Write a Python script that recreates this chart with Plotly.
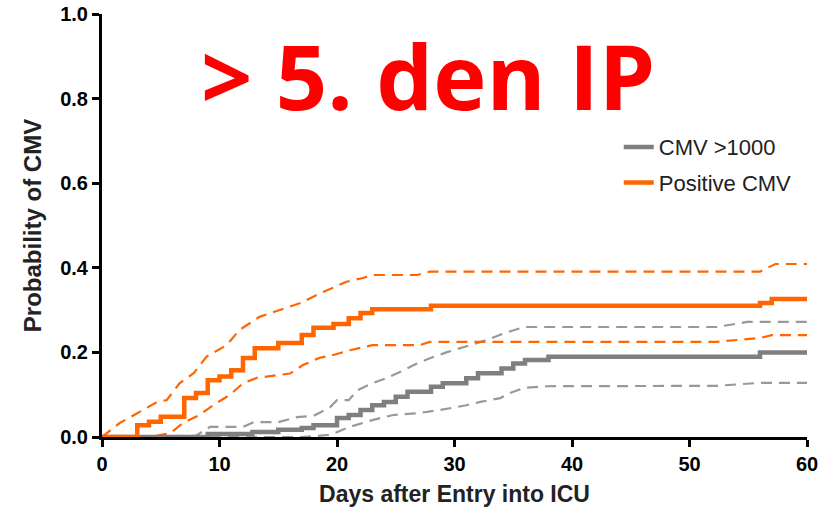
import plotly.graph_objects as go

# ---- data ----
pos_days = [0, 3, 4, 5, 7, 8, 9, 10, 11, 12, 13, 15, 17, 18, 19.7, 21, 22, 23, 28, 56, 57, 60]
pos_prob = [0, 0.028, 0.036, 0.048, 0.092, 0.104, 0.134, 0.143, 0.158, 0.187, 0.21, 0.222, 0.241, 0.258,
            0.267, 0.281, 0.293, 0.302, 0.31, 0.317, 0.326, 0.326]

pos_hi_days = [0, 1.5, 3, 4.7, 5.5, 6.6, 7.8, 8.9, 10.6, 11.7, 13.4, 15.1, 16.9, 18.6, 20.8, 22.2, 23,
               26.8, 27.9, 56, 57.3, 60]
pos_hi_prob = [0, 0.033, 0.056, 0.083, 0.087, 0.127, 0.151, 0.19, 0.217, 0.253, 0.284, 0.3, 0.317, 0.34,
               0.367, 0.376, 0.383, 0.383, 0.391, 0.391, 0.409, 0.409]

pos_lo_days = [0, 4, 5.8, 6.9, 8.3, 9.5, 10.9, 12, 13.2, 15.1, 16, 17.1, 18.5, 19.7, 21.1, 23, 27, 27.9,
               52.3, 56, 57, 60]
pos_lo_prob = [0, 0, 0.009, 0.033, 0.052, 0.076, 0.1, 0.127, 0.14, 0.147, 0.15, 0.17, 0.187, 0.194,
               0.205, 0.217, 0.217, 0.225, 0.225, 0.234, 0.241, 0.241]

hi_days = [0, 9, 12.8, 15, 17, 18, 20, 21, 22, 23, 24, 25, 26, 28, 29, 31, 32, 34, 35, 36, 38, 56, 60]
hi_prob = [0, 0.007, 0.012, 0.017, 0.021, 0.028, 0.045, 0.052, 0.064, 0.075, 0.083, 0.095, 0.107, 0.119,
           0.127, 0.139, 0.151, 0.162, 0.174, 0.182, 0.19, 0.2, 0.2]

hi_up_days = [0, 8, 9.2, 12, 12.9, 15, 16.6, 18, 19.4, 20, 21, 21.7, 23, 24.2, 25.4, 26.8, 27.9, 29.3,
              31.3, 32.8, 34.2, 35.9, 52.3, 54.9, 60]
hi_up_prob = [0, 0.003, 0.024, 0.024, 0.035, 0.035, 0.047, 0.05, 0.07, 0.087, 0.087, 0.11, 0.127, 0.139,
              0.154, 0.174, 0.186, 0.2, 0.217, 0.23, 0.245, 0.26, 0.26, 0.272, 0.272]

hi_lo_days = [0, 17, 19.4, 21.1, 23, 24.8, 26.8, 28.8, 31, 32.2, 33.9, 34.7, 35.9, 37.9, 52.3, 56, 60]
hi_lo_prob = [0, 0, 0.005, 0.024, 0.04, 0.052, 0.056, 0.064, 0.075, 0.083, 0.092, 0.104, 0.116, 0.12,
              0.121, 0.128, 0.128]

x_ticks = [0, 10, 20, 30, 40, 50, 60]
y_ticks = [0.0, 0.2, 0.4, 0.6, 0.8, 1.0]
y_tick_text = ["0.0", "0.2", "0.4", "0.6", "0.8", "1.0"]

ORANGE = "#FF6600"
GRAY = "#7F7F7F"
GRAY_D = "#999999"

fig = go.Figure()
dash = "11px,7px"
fig.add_trace(go.Scatter(x=hi_up_days, y=hi_up_prob, mode="lines", showlegend=False,
                         line=dict(color=GRAY_D, width=2.2, dash=dash), hoverinfo="skip"))
fig.add_trace(go.Scatter(x=hi_lo_days, y=hi_lo_prob, mode="lines", showlegend=False,
                         line=dict(color=GRAY_D, width=2.2, dash=dash), hoverinfo="skip"))
fig.add_trace(go.Scatter(x=pos_hi_days, y=pos_hi_prob, mode="lines", showlegend=False,
                         line=dict(color=ORANGE, width=2.2, dash=dash), hoverinfo="skip"))
fig.add_trace(go.Scatter(x=pos_lo_days, y=pos_lo_prob, mode="lines", showlegend=False,
                         line=dict(color=ORANGE, width=2.2, dash=dash), hoverinfo="skip"))
fig.add_trace(go.Scatter(x=hi_days, y=hi_prob, mode="lines", name="CMV >1000", legendgroup="a",
                         line=dict(color=GRAY, width=4.5, shape="hv")))
fig.add_trace(go.Scatter(x=pos_days, y=pos_prob, mode="lines", name="Positive CMV", legendgroup="b",
                         line=dict(color=ORANGE, width=4.5, shape="hv")))

tickfont = dict(family="Liberation Sans", size=20, color="black", weight="bold")
fig.update_layout(
    width=833, height=507,
    margin=dict(l=102, r=26, t=14, b=70),
    paper_bgcolor="white", plot_bgcolor="white",
    showlegend=True,
    legend=dict(x=0.733, y=0.735, xanchor="left", yanchor="top",
                font=dict(family="Liberation Sans", size=22, color="#222"),
                bgcolor="rgba(0,0,0,0)", tracegroupgap=4),
    xaxis=dict(range=[0, 60], tickvals=x_ticks, showline=True, linewidth=3, linecolor="black",
               ticks="outside", ticklen=7, tickwidth=3, tickcolor="black", showgrid=False,
               zeroline=False, tickfont=tickfont, automargin=False,
               title=dict(text="Days after Entry into ICU", standoff=13,
                          font=dict(family="Liberation Sans", size=23, color="#222", weight="bold"))),
    yaxis=dict(range=[0, 1], tickvals=y_ticks, ticktext=y_tick_text, showline=True, linewidth=3,
               linecolor="black", ticks="outside", ticklen=7, tickwidth=3, tickcolor="black",
               showgrid=False, zeroline=False, tickfont=tickfont, automargin=False,
               title=dict(text="Probability of CMV", standoff=12,
                          font=dict(family="Liberation Sans", size=24, color="#222", weight="bold"))),
    annotations=[dict(text="> 5. den IP", x=0.462, y=0.855, xref="paper", yref="paper",
                      xanchor="center", yanchor="middle", showarrow=False,
                      font=dict(family="Open Sans", size=90, color="#FF0000", weight="bold"))],
)

fig.write_html("out.html", config={"displayModeBar": False},
               post_script="document.body.style.margin='0';")
